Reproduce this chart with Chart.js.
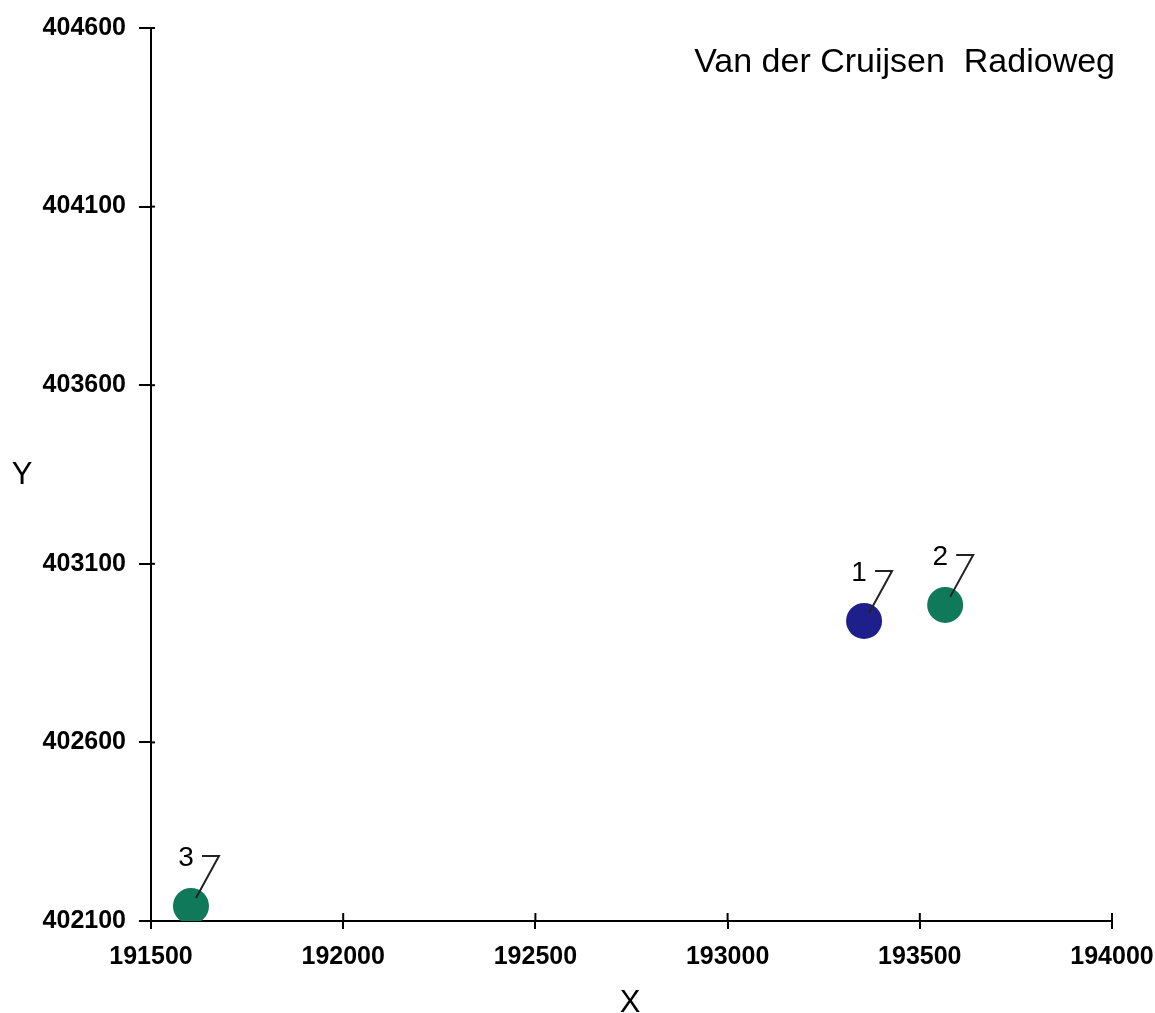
<!DOCTYPE html>
<html>
<head>
<meta charset="utf-8">
<title>Van der Cruijsen Radioweg</title>
<script src="https://cdn.jsdelivr.net/npm/chart.js@4.4.1/dist/chart.umd.min.js"></script>
<style>
  html, body { margin: 0; padding: 0; background: #fff; }
  #wrap { width: 1155px; height: 1013px; }
</style>
</head>
<body>
<div id="wrap"><canvas id="chart"></canvas></div>
<script>
// meetpunten
const pointIds = ['1', '2', '3'];
const xValues = [193355, 193566, 191604];
const yValues = [402940, 402985, 402142];

// as-ticks
const xTicks = [191500, 192000, 192500, 193000, 193500, 194000];
const yTicks = [402100, 402600, 403100, 403600, 404100, 404600];

const chartTitle = 'Van der Cruijsen  Radioweg';
const FONT = '"Liberation Sans", Arial, sans-serif';

// extra tekst en het binnenste stukje van de tickstreepjes
const extrasPlugin = {
  id: 'extras',
  afterDraw(chart) {
    const ctx = chart.ctx;
    const xs = chart.scales.x;
    const ys = chart.scales.y;
    const area = chart.chartArea;

    ctx.save();
    ctx.strokeStyle = '#000';
    ctx.lineWidth = 2;
    xTicks.forEach(v => {
      const px = xs.getPixelForValue(v);
      ctx.beginPath();
      ctx.moveTo(px, area.bottom);
      ctx.lineTo(px, area.bottom - 8);
      ctx.stroke();
    });
    yTicks.forEach(v => {
      const py = ys.getPixelForValue(v);
      ctx.beginPath();
      ctx.moveTo(area.left, py);
      ctx.lineTo(area.left + 4, py);
      ctx.stroke();
    });

    ctx.fillStyle = '#000';
    ctx.font = '34px ' + FONT;
    ctx.textAlign = 'right';
    ctx.textBaseline = 'alphabetic';
    ctx.fillText(chartTitle, 1115, 72);

    ctx.font = '31px ' + FONT;
    ctx.textAlign = 'center';
    ctx.fillText('Y', 22, 484);
    ctx.fillText('X', 630, 1012);

    // puntlabels met verbindingslijntje
    const meta = chart.getDatasetMeta(0);
    ctx.font = '28px ' + FONT;
    ctx.lineWidth = 2;
    ctx.strokeStyle = '#222';
    meta.data.forEach((el, i) => {
      const cx = el.x, cy = el.y;
      ctx.fillText(pointIds[i], cx - 5, cy - 40);
      ctx.beginPath();
      ctx.moveTo(cx + 11, cy - 50);
      ctx.lineTo(cx + 28, cy - 50);
      ctx.lineTo(cx + 5, cy - 8);
      ctx.stroke();
    });
    ctx.restore();
  }
};

new Chart(document.getElementById('chart'), {
  type: 'scatter',
  data: {
    datasets: [{
      data: xValues.map((x, i) => ({ x: x, y: yValues[i] })),
      backgroundColor: ['#1f1f8c', '#10795a', '#10795a'],
      borderWidth: 0,
      pointRadius: 18,
      pointHoverRadius: 18
    }]
  },
  options: {
    responsive: true,
    maintainAspectRatio: false,
    animation: false,
    layout: { padding: { left: 0, right: 43, top: 28, bottom: 0 } },
    plugins: {
      legend: { display: false },
      tooltip: { enabled: false }
    },
    scales: {
      x: {
        type: 'linear',
        min: 191500,
        max: 194000,
        afterBuildTicks: scale => { scale.ticks = xTicks.map(v => ({ value: v })); },
        afterFit: scale => {
          scale.height = 92;
          scale.paddingLeft = 0;
          scale.paddingRight = 0;
        },
        border: { display: true, color: '#000', width: 2 },
        grid: { drawOnChartArea: false, drawTicks: true, tickLength: 8, color: '#000', lineWidth: 2 },
        ticks: {
          color: '#000',
          padding: 13,
          maxRotation: 0,
          font: { family: FONT, size: 25, weight: 'bold' },
          callback: v => String(v)
        }
      },
      y: {
        type: 'linear',
        min: 402100,
        max: 404600,
        afterBuildTicks: scale => { scale.ticks = yTicks.map(v => ({ value: v })); },
        afterFit: scale => {
          scale.width = 151;
          scale.paddingTop = 0;
          scale.paddingBottom = 0;
        },
        border: { display: true, color: '#000', width: 2 },
        grid: { drawOnChartArea: false, drawTicks: true, tickLength: 12, color: '#000', lineWidth: 2 },
        ticks: {
          color: '#000',
          padding: 13,
          font: { family: FONT, size: 25, weight: 'bold' },
          callback: v => String(v)
        }
      }
    }
  },
  plugins: [extrasPlugin]
});
</script>
</body>
</html>
